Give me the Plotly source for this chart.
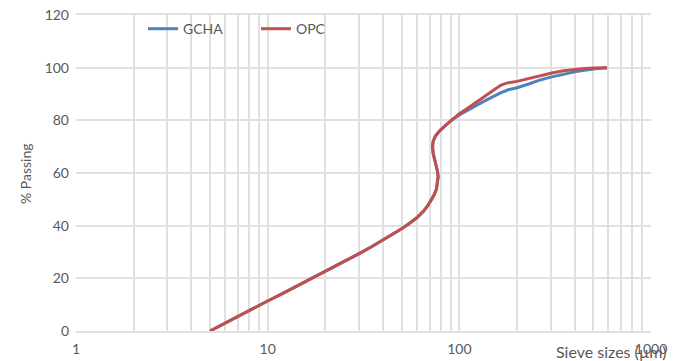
import plotly.graph_objects as go

# Common lower part of the curves (sieve size in µm, % passing)
size_common = [5.0, 5.5, 6, 7, 8, 9, 10, 12, 14, 16, 18, 20, 25, 30, 35, 40, 45, 50,
               55, 60, 65, 68, 71, 74, 76, 77, 77.5, 77, 76, 74.5, 73, 72.5, 73, 75,
               79, 85, 92]
pass_common = [0, 1.6, 3.0, 5.5, 7.8, 9.7, 11.4, 14.3, 16.8, 19.0, 20.9, 22.6, 26.3,
               29.4, 32.1, 34.6, 36.8, 38.8, 40.9, 43.0, 45.5, 47.3, 49.5, 51.8, 54.0,
               56.5, 58.5, 60.5, 62.5, 65.0, 67.5, 70.0, 72.0, 74.0, 76.0, 78.2, 80.3]

size_upper = [100, 110, 120, 135, 150, 165, 180, 200, 230, 260, 300, 350, 400, 450, 500, 590]
gcha_upper = [82.0, 83.8, 85.3, 87.3, 89.0, 90.5, 91.6, 92.4, 93.8, 95.2, 96.4, 97.5,
              98.4, 99.0, 99.5, 100.0]
opc_upper = [82.5, 84.5, 86.5, 89.0, 91.3, 93.4, 94.3, 94.8, 95.9, 97.0, 97.9, 98.8,
             99.4, 99.7, 99.9, 100.0]

series_names = ["GCHA", "OPC"]
x_ticks = [1, 10, 100, 1000]
y_ticks = [0, 20, 40, 60, 80, 100, 120]

grey = "#595959"
grid = "#e0e0e0"
font_family = "Lato, 'Open Sans', sans-serif"

fig = go.Figure()
fig.add_trace(go.Scatter(x=size_common + size_upper, y=pass_common + gcha_upper,
                         mode="lines", name=series_names[0],
                         line=dict(color="#4F81BD", width=3)))
fig.add_trace(go.Scatter(x=size_common + size_upper, y=pass_common + opc_upper,
                         mode="lines", name=series_names[1],
                         line=dict(color="#C0504D", width=3)))

minor_vals = [m * d for d in [1, 10, 100] for m in range(2, 10)]

fig.update_layout(
    width=684, height=361,
    margin=dict(l=76, r=33, t=15, b=30),
    plot_bgcolor="white", paper_bgcolor="white",
    font=dict(family=font_family, size=14, color=grey),
    showlegend=True,
    legend=dict(orientation="h", x=0.1165, y=1.006, xanchor="left", yanchor="top",
                bgcolor="rgba(0,0,0,0)", font=dict(size=14, color=grey),
                entrywidth=68, entrywidthmode="pixels", tracegroupgap=0),
    xaxis=dict(type="log", range=[0, 3], tickvals=x_ticks,
               ticktext=[str(v) for v in x_ticks], automargin=False,
               showgrid=True, gridcolor=grid, gridwidth=1.5,
               minor=dict(tickvals=minor_vals, showgrid=True, gridcolor=grid,
                          gridwidth=1.5, ticks=""),
               zeroline=False, showline=True, linecolor=grid, linewidth=1.5,
               ticks="", ticklabelstandoff=4,
               tickfont=dict(size=14, color=grey), mirror=True),
    yaxis=dict(range=[0, 120], tickvals=y_ticks, showgrid=True, gridcolor=grid,
               gridwidth=1.5, zeroline=False, showline=False, ticks="",
               ticklabelstandoff=6, automargin=False,
               tickfont=dict(size=14, color=grey)),
)

fig.add_annotation(text="% Passing", xref="paper", yref="paper",
                   x=-0.0887, y=0.5, xanchor="center", yanchor="middle",
                   textangle=-90, showarrow=False, font=dict(size=14, color=grey))

fig.add_annotation(text="Sieve sizes (µm)", xref="paper", yref="paper",
                   x=1.03, y=-0.066, xanchor="right", yanchor="middle", showarrow=False,
                   font=dict(size=16, color=grey))

fig.write_html("out.html")
